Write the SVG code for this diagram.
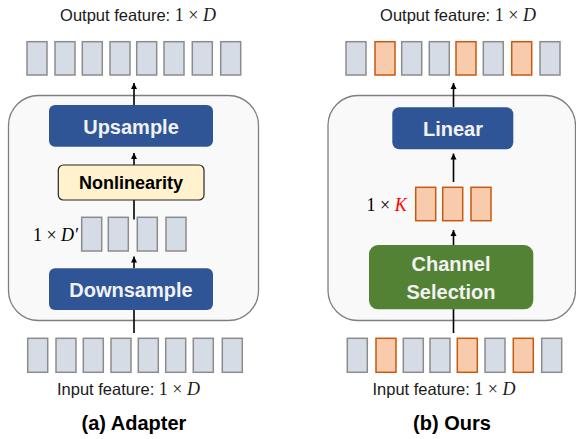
<svg xmlns="http://www.w3.org/2000/svg" width="576" height="439" viewBox="0 0 576 439">
<defs>
<marker id="ah" viewBox="0 0 10 10" refX="10" refY="5" markerWidth="6" markerHeight="7" orient="auto" markerUnits="userSpaceOnUse">
<path d="M0,0 L10,5 L0,10 Z" fill="#000"/>
</marker>
<style>
.cont{fill:#F9F9F9;stroke:#7F7F7F;stroke-width:1.3}
.g{fill:#D6DCE5;stroke:#8C8C8C;stroke-width:1.5}
.o{fill:#F8CBAD;stroke:#C55A11;stroke-width:1.5}
.blue{fill:#2F5597}
.green{fill:#548235}
.nl{fill:#FFF2CC;stroke:#262626;stroke-width:1.2}
.wt{font-family:"Liberation Sans",Arial,sans-serif;font-weight:bold;font-size:20px;fill:#F2F2F2;text-anchor:middle}
.bt{font-family:"Liberation Sans",Arial,sans-serif;font-weight:bold;font-size:18px;fill:#000;text-anchor:middle}
.lab{font-family:"Liberation Sans",Arial,sans-serif;font-size:16.5px;fill:#1a1a1a;text-anchor:middle}
.m{font-family:"Liberation Serif","Times New Roman",serif;font-size:18px}
.cap{font-family:"Liberation Sans",Arial,sans-serif;font-weight:bold;font-size:20px;fill:#000;text-anchor:middle}
.ln{stroke:#000;stroke-width:1.6;fill:none}
</style>
</defs>

<!-- containers -->
<g id="adapter-container"><rect class="cont" x="8.5" y="95.5" width="250" height="225" rx="30"/></g>
<g id="ours-container"><rect class="cont" x="328" y="95.5" width="247.5" height="225" rx="30"/></g>

<!-- connectors -->
<g id="connectors">
<line class="ln" x1="134" y1="105" x2="134" y2="83" marker-end="url(#ah)"/>
<line class="ln" x1="134" y1="165" x2="134" y2="153" marker-end="url(#ah)"/>
<line class="ln" x1="134" y1="219.5" x2="134" y2="200"/>
<line class="ln" x1="134" y1="268" x2="134" y2="256.5" marker-end="url(#ah)"/>
<line class="ln" x1="134" y1="333" x2="134" y2="310"/>
<line class="ln" x1="453.5" y1="107" x2="453.5" y2="83" marker-end="url(#ah)"/>
<line class="ln" x1="453.5" y1="182" x2="453.5" y2="153.5" marker-end="url(#ah)"/>
<line class="ln" x1="453.5" y1="245" x2="453.5" y2="230" marker-end="url(#ah)"/>
<line class="ln" x1="453.5" y1="333" x2="453.5" y2="309"/>
</g>

<!-- Adapter panel -->
<g id="adapter-output-label"><text class="lab" x="138" y="21">Output feature: <tspan class="m">1 × <tspan font-style="italic">D</tspan></tspan></text></g>
<g id="adapter-output">
<rect class="g" x="27" y="41.7" width="20" height="33.3"/>
<rect class="g" x="55" y="41.7" width="20" height="33.3"/>
<rect class="g" x="82.3" y="41.7" width="20" height="33.3"/>
<rect class="g" x="110" y="41.7" width="20" height="33.3"/>
<rect class="g" x="136.7" y="41.7" width="20" height="33.3"/>
<rect class="g" x="164" y="41.7" width="20" height="33.3"/>
<rect class="g" x="192.3" y="41.7" width="20" height="33.3"/>
<rect class="g" x="220.7" y="41.7" width="20" height="33.3"/>
</g>
<g id="upsample"><rect class="blue" x="49" y="105" width="164" height="41.7" rx="6"/><text class="wt" x="131" y="133.5">Upsample</text></g>
<g id="nonlinearity"><rect class="nl" x="58.3" y="165" width="145.7" height="35" rx="5"/><text class="bt" x="131" y="189">Nonlinearity</text></g>
<g id="adapter-hidden">
<text class="m" x="78" y="241" text-anchor="end" fill="#000">1 × <tspan font-style="italic">D′</tspan></text>
<rect class="g" x="81.7" y="217.3" width="20" height="33.7"/>
<rect class="g" x="108.3" y="217.3" width="20" height="33.7"/>
<rect class="g" x="137.3" y="217.3" width="20" height="33.7"/>
<rect class="g" x="166" y="217.3" width="20" height="33.7"/>
</g>
<g id="downsample"><rect class="blue" x="49" y="268.3" width="164" height="41.7" rx="6"/><text class="wt" x="131" y="297">Downsample</text></g>
<g id="adapter-input">
<rect class="g" x="27.7" y="338.3" width="20" height="34"/>
<rect class="g" x="56" y="338.3" width="20" height="34"/>
<rect class="g" x="83.3" y="338.3" width="20" height="34"/>
<rect class="g" x="111" y="338.3" width="20" height="34"/>
<rect class="g" x="138.3" y="338.3" width="20" height="34"/>
<rect class="g" x="165.7" y="338.3" width="20" height="34"/>
<rect class="g" x="193.3" y="338.3" width="20" height="34"/>
<rect class="g" x="222.3" y="338.3" width="20" height="34"/>
</g>
<g id="adapter-input-label"><text class="lab" x="128.5" y="395">Input feature: <tspan class="m">1 × <tspan font-style="italic">D</tspan></tspan></text></g>
<g id="caption-a"><text class="cap" x="134" y="430">(a) Adapter</text></g>

<!-- Ours panel -->
<g id="ours-output-label"><text class="lab" x="458" y="21">Output feature: <tspan class="m">1 × <tspan font-style="italic">D</tspan></tspan></text></g>
<g id="ours-output">
<rect class="g" x="346" y="41.7" width="20" height="33.3"/>
<rect class="o" x="375" y="41.7" width="20" height="33.3"/>
<rect class="g" x="401.7" y="41.7" width="20" height="33.3"/>
<rect class="g" x="429.3" y="41.7" width="20" height="33.3"/>
<rect class="o" x="456" y="41.7" width="20" height="33.3"/>
<rect class="g" x="483.3" y="41.7" width="20" height="33.3"/>
<rect class="o" x="511.7" y="41.7" width="20" height="33.3"/>
<rect class="g" x="540" y="41.7" width="20" height="33.3"/>
</g>
<g id="linear"><rect class="blue" x="392.3" y="107.3" width="121" height="42" rx="7"/><text class="wt" x="453" y="136">Linear</text></g>
<g id="ours-selected">
<text class="m" x="406.7" y="211" text-anchor="end" fill="#000">1 × <tspan font-style="italic" fill="#FF0000">K</tspan></text>
<rect class="o" x="415.7" y="187.3" width="20" height="33.4"/>
<rect class="o" x="442.7" y="187.3" width="20" height="33.4"/>
<rect class="o" x="471" y="187.3" width="20" height="33.4"/>
</g>
<g id="channel-selection"><rect class="green" x="369" y="245" width="164.3" height="64.3" rx="9"/><text class="wt" x="451" y="271">Channel</text><text class="wt" x="451" y="298.5">Selection</text></g>
<g id="ours-input">
<rect class="g" x="347.3" y="338.3" width="20" height="34"/>
<rect class="o" x="376" y="338.3" width="20" height="34"/>
<rect class="g" x="403.3" y="338.3" width="20" height="34"/>
<rect class="g" x="430" y="338.3" width="20" height="34"/>
<rect class="o" x="457.3" y="338.3" width="20" height="34"/>
<rect class="g" x="485" y="338.3" width="20" height="34"/>
<rect class="o" x="513.3" y="338.3" width="20" height="34"/>
<rect class="g" x="541.7" y="338.3" width="20" height="34"/>
</g>
<g id="ours-input-label"><text class="lab" x="444" y="395">Input feature: <tspan class="m">1 × <tspan font-style="italic">D</tspan></tspan></text></g>
<g id="caption-b"><text class="cap" x="452" y="430">(b) Ours</text></g>
</svg>
